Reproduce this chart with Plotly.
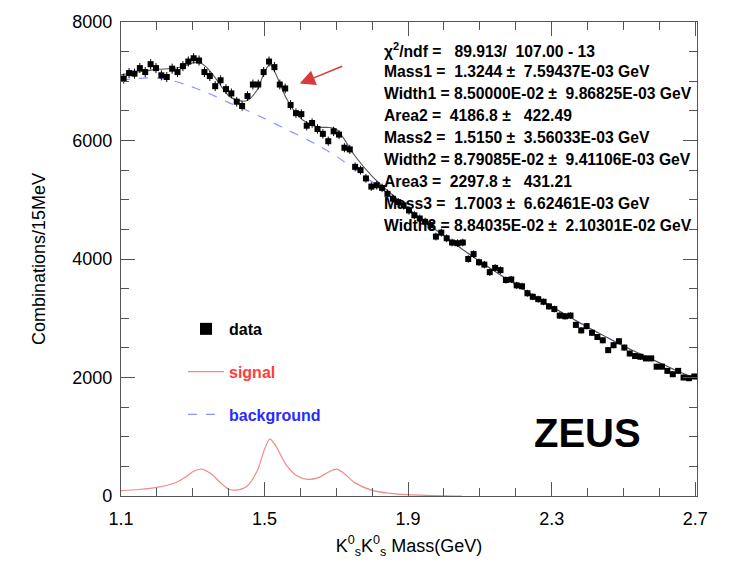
import numpy as np
import plotly.graph_objects as go

# ---------------- data ----------------
bin_lo = 1.10
bin_w = 0.015
counts = [7045, 7138, 7128, 7222, 7155, 7288, 7222, 7100, 7072, 7212,
          7155, 7255, 7333, 7388, 7350, 7155, 7088, 6917, 7017, 6867,
          6795, 6655, 6583, 6750, 6945, 6945, 7155, 7333, 7238, 6945,
          6878, 6600, 6462, 6445, 6250, 6295, 6195, 6112, 5988, 6155,
          6100, 5878, 5850, 5555, 5500, 5360, 5222, 5245, 5200, 5100,
          5017, 4960, 4905, 4820, 4738, 4683, 4628, 4572, 4378, 4445,
          4350, 4278, 4267, 4278, 4000, 4083, 3945, 3905, 3778, 3850,
          3812, 3645, 3655, 3555, 3540, 3422, 3362, 3322, 3278, 3200,
          3155, 3045, 3033, 3045, 2888, 2795, 2867, 2755, 2683, 2628,
          2462, 2545, 2612, 2505, 2405, 2362, 2350, 2322, 2322, 2183,
          2183, 2112, 2055, 2112, 2000, 1988, 2017]
mass = [bin_lo + bin_w * (i + 0.5) for i in range(len(counts))]
errors = np.sqrt(np.array(counts, dtype=float))

fit_mass = [1.10, 1.15, 1.20, 1.25, 1.28, 1.30, 1.3244, 1.35, 1.38, 1.40,
            1.42, 1.45, 1.48, 1.50, 1.515, 1.53, 1.56, 1.59, 1.62, 1.65,
            1.68, 1.70, 1.72, 1.75, 1.80, 1.85, 1.90, 1.95, 2.00, 2.05,
            2.10, 2.15, 2.20, 2.25, 2.30, 2.35, 2.40, 2.45, 2.50, 2.55,
            2.60, 2.65, 2.705]
background = [7020, 7050, 7055, 7000, 6945, 6900, 6845, 6780, 6700, 6640,
              6590, 6510, 6430, 6370, 6325, 6280, 6190, 6100, 6010, 5915,
              5810, 5735, 5650, 5525, 5300, 5070, 4830, 4600, 4390, 4170,
              3960, 3760, 3570, 3380, 3200, 3020, 2850, 2690, 2530, 2390,
              2250, 2110, 1975]
signal = [90, 110, 145, 220, 320, 410, 455, 380, 210, 115,
          100, 160, 430, 790, 960, 860, 530, 340, 280, 310,
          410, 455, 390, 230, 95, 45, 22, 10, 4, 0,
          0, 0, 0, 0, 0, 0, 0, 0, 0, 0,
          0, 0, 0]
signal_end = 29  # red curve stops near 2.0 GeV
total = [b + s for b, s in zip(background, signal)]

stats_lines = [
    "χ<sup>2</sup>/ndf =   89.913/  107.00 - 13",
    "Mass1 =  1.3244 ±  7.59437E-03 GeV",
    "Width1 = 8.50000E-02 ±  9.86825E-03 GeV",
    "Area2 =  4186.8 ±   422.49",
    "Mass2 =  1.5150 ±  3.56033E-03 GeV",
    "Width2 = 8.79085E-02 ±  9.41106E-03 GeV",
    "Area3 =  2297.8 ±   431.21",
    "Mass3 =  1.7003 ±  6.62461E-03 GeV",
    "Width3 = 8.84035E-02 ±  2.10301E-02 GeV",
]

FONT = "Liberation Sans, Arial, Helvetica, sans-serif"

fig = go.Figure()

fig.add_trace(go.Scatter(
    x=fit_mass, y=background, mode="lines",
    name='<b><span style="color:#2a2aff">background</span></b>',
    line=dict(color="#8a95ff", width=1.2, dash="dash", shape="spline", smoothing=0.8),
    legendrank=3, legendgroup="c",
))
fig.add_trace(go.Scatter(
    x=fit_mass, y=total, mode="lines", showlegend=False,
    line=dict(color="#555555", width=1.1, shape="spline", smoothing=0.8),
))
fig.add_trace(go.Scatter(
    x=fit_mass[:signal_end + 1], y=signal[:signal_end + 1], mode="lines",
    name='<b><span style="color:#ff3b3b">signal</span></b>',
    line=dict(color="#f08a8a", width=1.2, shape="spline", smoothing=0.8),
    legendrank=2, legendgroup="b",
))
fig.add_trace(go.Scatter(
    x=mass, y=counts, mode="markers", name="data", showlegend=False,
    marker=dict(symbol="square", size=6, color="black"),
    error_y=dict(type="data", array=errors, color="black", thickness=1, width=0),
))
# legend-only entry for the data (bigger symbol as in the original legend)
fig.add_trace(go.Scatter(
    x=[None], y=[None], mode="markers", name="<b>data</b>",
    marker=dict(symbol="square", size=12, color="black"),
    legendrank=1, legendgroup="a",
))

# stats box text
for k, line in enumerate(stats_lines):
    fig.add_annotation(
        xref="paper", yref="paper", x=(382 - 121) / 576, y=1 - (45 + 22.2 * k - 17) / 479,
        text="<b>" + line + "</b>", showarrow=False, xanchor="left", yanchor="middle",
        font=dict(family=FONT, size=15.7, color="black"),
    )

# arrow
fig.add_annotation(
    x=1.598, y=6960, xref="x", yref="y", ax=44, ay=-18, axref="pixel", ayref="pixel",
    text="", showarrow=True, arrowhead=2, arrowsize=2.2, arrowwidth=1.4, arrowcolor="#d63b3b",
)

# ZEUS label
fig.add_annotation(
    xref="paper", yref="paper", x=(587 - 121) / 576, y=(496 - 432) / 479,
    text="<b>ZEUS</b>", showarrow=False, xanchor="center", yanchor="middle",
    font=dict(family=FONT, size=40, color="black"),
)

fig.update_layout(
    width=733, height=567,
    margin=dict(l=121, r=36, t=17, b=71),
    paper_bgcolor="white", plot_bgcolor="white",
    font=dict(family=FONT, size=18, color="black"),
    showlegend=True,
    legend=dict(
        x=(183 - 121) / 576, y=(496 - 310) / 479, xanchor="left", yanchor="top",
        bgcolor="rgba(0,0,0,0)", tracegroupgap=19, itemwidth=36,
        font=dict(family=FONT, size=16),
    ),
    xaxis=dict(
        range=[1.1, 2.705], tick0=1.1, dtick=0.4, tickformat=".1f",
        ticks="inside", ticklen=14, tickcolor="#555", mirror="ticks",
        showline=True, linecolor="#555", linewidth=1.2, showgrid=False, zeroline=False,
        minor=dict(dtick=0.1, tick0=1.1, ticks="inside", ticklen=8, tickcolor="#555", showgrid=False),
        title=dict(text="K<sup>0</sup><sub>s</sub>K<sup>0</sup><sub>s</sub> Mass(GeV)",
                   font=dict(size=18), standoff=11),
        tickfont=dict(size=18), ticklabelstandoff=6,
    ),
    yaxis=dict(
        range=[0, 8000], dtick=2000,
        ticks="inside", ticklen=14, tickcolor="#555", mirror="ticks",
        showline=True, linecolor="#555", linewidth=1.2, showgrid=False, zeroline=False,
        minor=dict(dtick=500, ticks="inside", ticklen=8, tickcolor="#555", showgrid=False),
        title=dict(text="Combinations/15MeV", font=dict(size=18), standoff=21),
        tickfont=dict(size=18), ticklabelstandoff=4,
    ),
)

fig.write_html("out.html")
